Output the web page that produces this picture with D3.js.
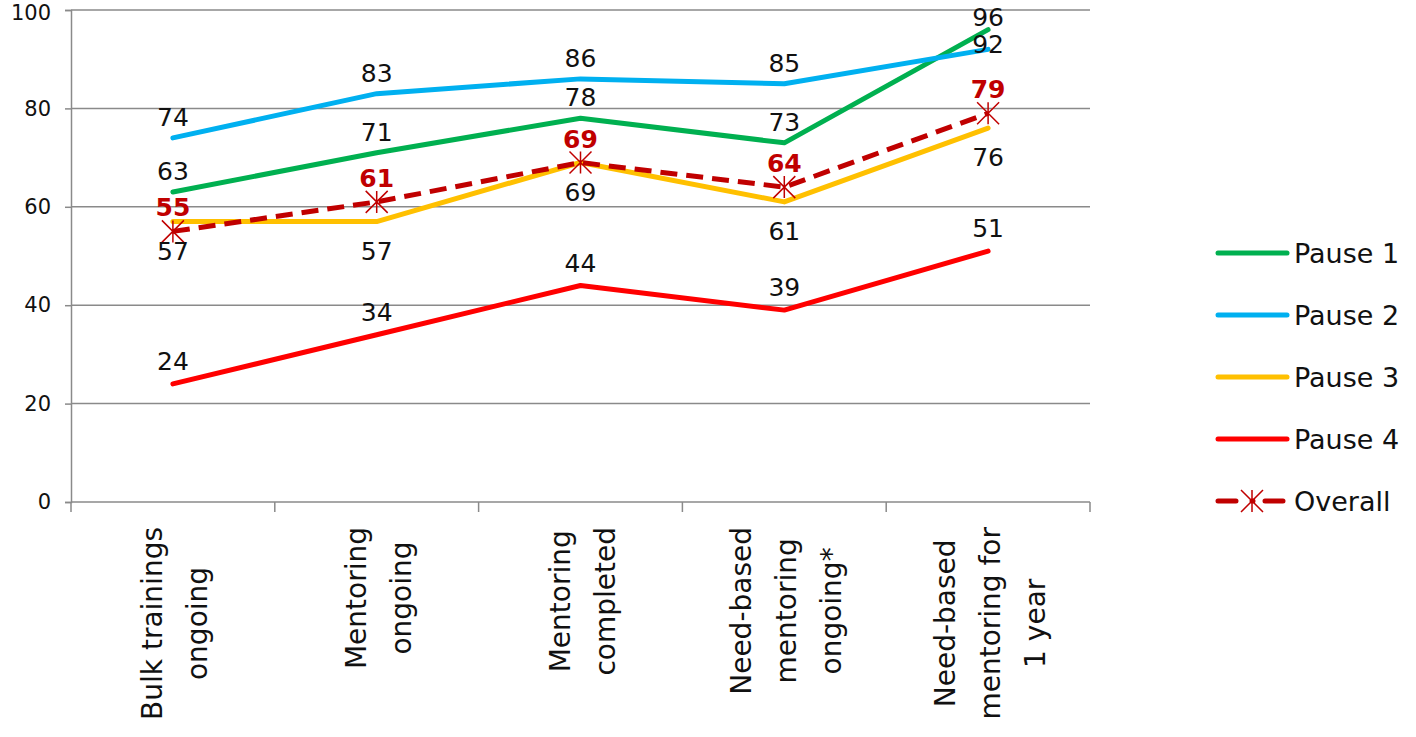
<!DOCTYPE html>
<html lang="en">
<head>
<meta charset="UTF-8">
<title>Mentoring chart</title>
<style>
    html,body{
        margin:0;
        height:100%;
        overflow:hidden;
        background:#fff;
    }
    text{ font-family:"DejaVu Sans", sans-serif; }
</style>
</head>
<body>
<svg id="svg"></svg>
<script src="https://d3js.org/d3.v7.min.js"></script>
<script>
    // chart data
    const categories = [
        ["Bulk trainings", "ongoing"],
        ["Mentoring", "ongoing"],
        ["Mentoring", "completed"],
        ["Need-based", "mentoring", "ongoing*"],
        ["Need-based", "mentoring for", "1 year"]
    ];
    const seriesNames = ["Pause 1", "Pause 2", "Pause 3", "Pause 4", "Overall"];
    const pause1 = [63, 71, 78, 73, 96];
    const pause2 = [74, 83, 86, 85, 92];
    const pause3 = [57, 57, 69, 61, 76];
    const pause4 = [24, 34, 44, 39, 51];
    const overall = [55, 61, 69, 64, 79];
    const yTicks = [0, 20, 40, 60, 80, 100];

    const width = 1416, height = 737;
    const svg = d3.select('#svg').attr('width', width).attr('height', height);

    const plotLeft = 71, plotRight = 1090, plotTop = 10, plotBottom = 502;
    const catKeys = categories.map(d => d.join(' '));
    const xScale = d3.scaleBand().domain(catKeys).range([plotLeft, plotRight]);
    const yScale = d3.scaleLinear().domain([0, 100]).range([plotBottom, plotTop]);
    const cx = i => xScale(catKeys[i]) + xScale.bandwidth() / 2;

    const gray = '#8a8a8a';

    // grid
    svg.append('g').selectAll('line').data(yTicks).join('line')
        .attr('x1', plotLeft).attr('x2', plotRight)
        .attr('y1', d => yScale(d)).attr('y2', d => yScale(d))
        .attr('stroke', gray).attr('stroke-width', 1.5);

    // y axis
    const yAxis = d3.axisLeft(yScale).tickValues(yTicks).tickSize(6).tickPadding(14);
    const ya = svg.append('g').attr('transform', `translate(${plotLeft},0)`).call(yAxis);
    ya.select('.domain').attr('stroke', gray).attr('stroke-width', 1.5);
    ya.selectAll('.tick line').attr('stroke', gray).attr('stroke-width', 1.5);
    ya.selectAll('.tick text').attr('font-size', 21).attr('fill', '#111')
        .style('font-family', '"DejaVu Sans", sans-serif')
        .attr('dy', d => d === 100 ? '0.45em' : '0.32em');
    svg.append('line').attr('x1', plotLeft).attr('x2', plotLeft).attr('y1', plotBottom).attr('y2', plotBottom + 10)
        .attr('stroke', gray).attr('stroke-width', 1.5);

    // x ticks at band edges
    svg.append('g').selectAll('line').data(catKeys).join('line')
        .attr('x1', d => xScale(d) + xScale.bandwidth()).attr('x2', d => xScale(d) + xScale.bandwidth())
        .attr('y1', plotBottom).attr('y2', plotBottom + 10)
        .attr('stroke', gray).attr('stroke-width', 1.5);

    // category labels (rotated)
    const lineGap = 45;
    categories.forEach((lines, i) => {
        const g = svg.append('g');
        const n = lines.length;
        const texts = lines.map(t => g.append('text')
            .attr('font-size', 28).attr('fill', '#111')
            .attr('text-anchor', 'middle')
            .attr('dominant-baseline', 'central')
            .text(t));
        const maxLen = d3.max(texts, t => t.node().getComputedTextLength());
        const yc = plotBottom + 25 + maxLen / 2;
        texts.forEach((t, j) => {
            const x = cx(i) + 2 + (j - (n - 1) / 2) * lineGap;
            t.attr('transform', `translate(${x},${yc}) rotate(-90)`);
        });
    });

    // series
    const series = [
        { name: seriesNames[0], values: pause1, color: '#00b050', dy: -12, labelColor: '#111' },
        { name: seriesNames[1], values: pause2, color: '#00b0f0', dy: -12, labelColor: '#111' },
        { name: seriesNames[2], values: pause3, color: '#ffc000', dy: 38, labelColor: '#111' },
        { name: seriesNames[3], values: pause4, color: '#ff0000', dy: -14, labelColor: '#111' },
        { name: seriesNames[4], values: overall, color: '#c00000', dy: -15, labelColor: '#c00000', dashed: true }
    ];

    const line = d3.line().x((d, i) => cx(i)).y(d => yScale(d));
    const starPath = r => `M0,${-r}L0,${r}M${-r},${-r}L${r},${r}M${-r},${r}L${r},${-r}`;

    series.forEach(s => {
        svg.append('path')
            .datum(s.values)
            .attr('d', line)
            .attr('fill', 'none')
            .attr('stroke', s.color)
            .attr('stroke-width', 5)
            .attr('stroke-linejoin', 'round')
            .attr('stroke-linecap', s.dashed ? 'butt' : 'round')
            .attr('stroke-dasharray', s.dashed ? '17,9' : null);
        if (s.dashed) {
            svg.append('g').selectAll('path').data(s.values).join('path')
                .attr('transform', (d, i) => `translate(${cx(i)},${yScale(d)})`)
                .attr('d', starPath(11))
                .attr('stroke', s.color).attr('stroke-width', 1.5).attr('fill', 'none');
        }
    });

    // data labels: keep inside the top, push overlapping ones down
    const labels = [];
    series.forEach(s => {
        s.values.forEach((v, i) => {
            labels.push({ s, v, i, y: Math.max(yScale(v) + s.dy, plotTop + 16) });
        });
    });
    d3.groups(labels, d => d.i).forEach(([, list]) => {
        list.sort((a, b) => a.y - b.y);
        for (let k = 1; k < list.length; k++) {
            if (list[k].y - list[k - 1].y < 22) list[k].y = list[k - 1].y + 27;
        }
    });
    svg.append('g').selectAll('text').data(labels).join('text')
        .attr('x', d => cx(d.i))
        .attr('y', d => d.y)
        .attr('text-anchor', 'middle')
        .attr('font-size', 25)
        .attr('font-weight', d => d.s.dashed ? 'bold' : 'normal')
        .attr('fill', d => d.s.labelColor)
        .text(d => d.v);

    // legend
    const legend = svg.append('g').attr('transform', 'translate(1218,253)');
    const rowGap = 62;
    series.forEach((s, i) => {
        const row = legend.append('g').attr('transform', `translate(0,${i * rowGap})`);
        row.append('line')
            .attr('x1', 0).attr('x2', 69).attr('y1', 0).attr('y2', 0)
            .attr('stroke', s.color).attr('stroke-width', 5)
            .attr('stroke-linecap', 'round')
            .attr('stroke-dasharray', s.dashed ? '18,16,1,12' : null);
        if (s.dashed) {
            row.append('path').attr('transform', 'translate(34,0)')
                .attr('d', starPath(11))
                .attr('stroke', s.color).attr('stroke-width', 1.5).attr('fill', 'none');
        }
        row.append('text')
            .attr('x', 76).attr('y', 0)
            .attr('dominant-baseline', 'central')
            .attr('font-size', 27).attr('fill', '#111')
            .text(s.name);
    });
</script>
</body>
</html>
